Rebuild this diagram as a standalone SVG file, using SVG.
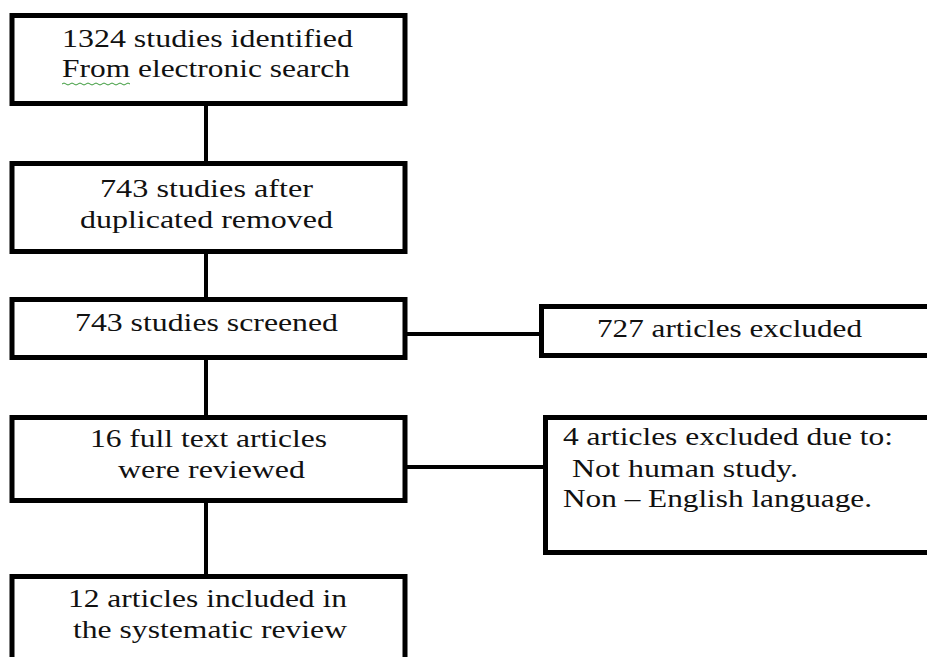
<svg xmlns="http://www.w3.org/2000/svg" width="927" height="657" viewBox="0 0 927 657">
<style>
.box{fill:#fff;stroke:#000;stroke-width:5}
.con{stroke:#000;stroke-width:4;fill:none}
.t{font-family:"Liberation Serif","Times New Roman",serif;font-size:25px;fill:#111}
.sq{fill:none;stroke:#3a9a3a;stroke-width:1}
</style>
<rect width="927" height="657" fill="#fff"/>
<g id="connectors">
<line class="con" x1="206" y1="105" x2="206" y2="163"/>
<line class="con" x1="206" y1="252" x2="206" y2="299"/>
<line class="con" x1="206" y1="358" x2="206" y2="417"/>
<line class="con" x1="206" y1="501" x2="206" y2="576"/>
<line class="con" x1="405" y1="334" x2="541" y2="334"/>
<line class="con" x1="405" y1="467" x2="545" y2="467"/>
</g>
<g id="n1">
<rect class="box" x="12" y="15.5" width="393" height="88"/>
<text class="t" x="62" y="47" textLength="291" lengthAdjust="spacingAndGlyphs">1324 studies identified</text>
<text class="t" x="62" y="77" textLength="288" lengthAdjust="spacingAndGlyphs">From electronic search</text>
<path class="sq" d="M62 84 q2 -2 4 0 t4 0 t4 0 t4 0 t4 0 t4 0 t4 0 t4 0 t4 0 t4 0 t4 0 t4 0 t4 0 t4 0 t4 0 t4 0 t4 0"/>
</g>
<g id="n2">
<rect class="box" x="12" y="163.5" width="393" height="88"/>
<text class="t" x="100" y="197" textLength="213" lengthAdjust="spacingAndGlyphs">743 studies after</text>
<text class="t" x="80" y="228" textLength="253" lengthAdjust="spacingAndGlyphs">duplicated removed</text>
</g>
<g id="n3">
<rect class="box" x="12" y="299.5" width="393" height="58"/>
<text class="t" x="75" y="331" textLength="263" lengthAdjust="spacingAndGlyphs">743 studies screened</text>
</g>
<g id="n3x">
<rect class="box" x="541.5" y="306.5" width="400" height="49"/>
<text class="t" x="597" y="337" textLength="265" lengthAdjust="spacingAndGlyphs">727 articles excluded</text>
</g>
<g id="n4">
<rect class="box" x="12" y="417.5" width="393" height="83"/>
<text class="t" x="90" y="447" textLength="237" lengthAdjust="spacingAndGlyphs">16 full text articles</text>
<text class="t" x="118" y="478" textLength="187" lengthAdjust="spacingAndGlyphs">were reviewed</text>
</g>
<g id="n4x">
<rect class="box" x="545.5" y="417.5" width="400" height="135"/>
<text class="t" x="563" y="445" textLength="330" lengthAdjust="spacingAndGlyphs">4 articles excluded due to:</text>
<text class="t" x="572" y="477" textLength="226" lengthAdjust="spacingAndGlyphs">Not human study.</text>
<text class="t" x="563" y="507" textLength="309" lengthAdjust="spacingAndGlyphs">Non – English language.</text>
</g>
<g id="n5">
<rect class="box" x="12" y="576.5" width="393" height="120"/>
<text class="t" x="68" y="607" textLength="279" lengthAdjust="spacingAndGlyphs">12 articles included in</text>
<text class="t" x="73" y="638" textLength="274" lengthAdjust="spacingAndGlyphs">the systematic review</text>
</g>
</svg>
